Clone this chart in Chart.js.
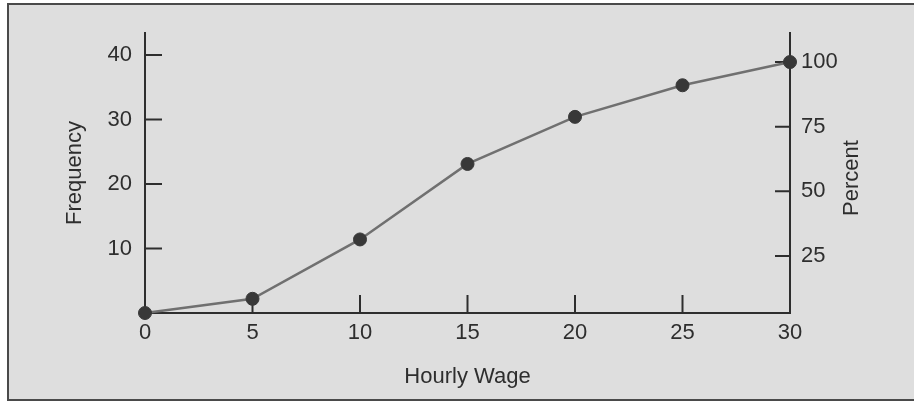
<!DOCTYPE html>
<html>
<head>
<meta charset="utf-8">
<script src="https://cdn.jsdelivr.net/npm/chart.js@4.4.1/dist/chart.umd.min.js"></script>
<style>
  html, body { margin: 0; padding: 0; background: #fff; }
  #box {
    position: absolute; left: 7px; top: 3px; width: 907px; height: 394px;
    background: #dedede;
    border-left: 2px solid #4a4a4a; border-top: 2px solid #4a4a4a; border-bottom: 2px solid #4a4a4a;
  }
  #wrap { position: relative; width: 905px; height: 394px; }
</style>
</head>
<body>
<div id="box"><div id="wrap"><canvas id="ogive"></canvas></div></div>
<script>
const wages = [0, 5, 10, 15, 20, 25, 30];
const cumFreq = [0, 2.2, 11.4, 23.1, 30.4, 35.3, 38.9];
const wageTicks = [0, 5, 10, 15, 20, 25, 30];
const freqTicks = [10, 20, 30, 40];
const percentTicks = [25, 50, 75, 100];

const ink = '#2e2e2e';
const font = { family: "'Liberation Sans', Arial, sans-serif", size: 22 };

// tick marks point into the plot, plus the right title reading upward
const innerTicks = {
  id: 'innerTicks',
  beforeDatasetsDraw(chart) {
    const { ctx, chartArea, scales } = chart;
    ctx.save();
    ctx.strokeStyle = ink;
    ctx.lineWidth = 2;
    ctx.beginPath();
    wageTicks.forEach(v => {
      if (v === wageTicks[0] || v === wageTicks[wageTicks.length - 1]) return;
      const x = scales.x.getPixelForValue(v);
      ctx.moveTo(x, chartArea.bottom);
      ctx.lineTo(x, chartArea.bottom - 18);
    });
    freqTicks.forEach(v => {
      const y = scales.y.getPixelForValue(v);
      ctx.moveTo(chartArea.left, y);
      ctx.lineTo(chartArea.left + 17, y);
    });
    percentTicks.forEach(v => {
      const y = scales.y2.getPixelForValue(v);
      ctx.moveTo(chartArea.right, y);
      ctx.lineTo(chartArea.right - 15, y);
    });
    ctx.stroke();

    ctx.fillStyle = ink;
    ctx.font = font.size + 'px ' + font.family;
    ctx.textAlign = 'center';
    ctx.textBaseline = 'middle';
    ctx.translate(chartArea.right + 62, (chartArea.top + chartArea.bottom) / 2 + 5);
    ctx.rotate(-Math.PI / 2);
    ctx.fillText('Percent', 0, 0);
    ctx.restore();
  }
};

new Chart(document.getElementById('ogive'), {
  type: 'line',
  data: {
    datasets: [{
      label: 'Cumulative frequency',
      data: wages.map((w, i) => ({ x: w, y: cumFreq[i] })),
      borderColor: '#707070',
      borderWidth: 2.5,
      pointRadius: 6.5,
      pointBackgroundColor: '#383838',
      pointBorderColor: '#383838',
      pointBorderWidth: 1,
      tension: 0,
      clip: false
    }]
  },
  options: {
    responsive: true,
    maintainAspectRatio: false,
    animation: false,
    layout: { padding: { top: 28, left: 0, right: 0, bottom: 0 } },
    plugins: { legend: { display: false }, tooltip: { enabled: false } },
    scales: {
      x: {
        type: 'linear',
        min: 0, max: 30,
        afterBuildTicks: s => { s.ticks = wageTicks.map(v => ({ value: v })); },
        afterFit: s => { s.height = 86; },
        grid: { display: false, drawTicks: false },
        border: { display: true, color: ink, width: 2 },
        ticks: { color: ink, font: font, padding: 7, maxRotation: 0 },
        title: { display: true, text: 'Hourly Wage', color: ink, font: font, padding: { top: 0, bottom: 9 } }
      },
      y: {
        position: 'left',
        min: 0, max: 43.4,
        afterBuildTicks: s => { s.ticks = freqTicks.map(v => ({ value: v })); },
        afterFit: s => { s.width = 136; },
        grid: { display: false, drawTicks: false },
        border: { display: true, color: ink, width: 2 },
        ticks: { color: ink, font: font, padding: 13 },
        title: { display: true, text: 'Frequency', color: ink, font: font, padding: { top: 53, bottom: 0 } }
      },
      y2: {
        position: 'right',
        min: 3, max: 111.2,
        afterBuildTicks: s => { s.ticks = percentTicks.map(v => ({ value: v })); },
        afterFit: s => { s.width = 124; },
        grid: { display: false, drawTicks: false },
        border: { display: true, color: ink, width: 2 },
        ticks: { color: ink, font: font, padding: 11 }
      }
    }
  },
  plugins: [innerTicks]
});
</script>
</body>
</html>
